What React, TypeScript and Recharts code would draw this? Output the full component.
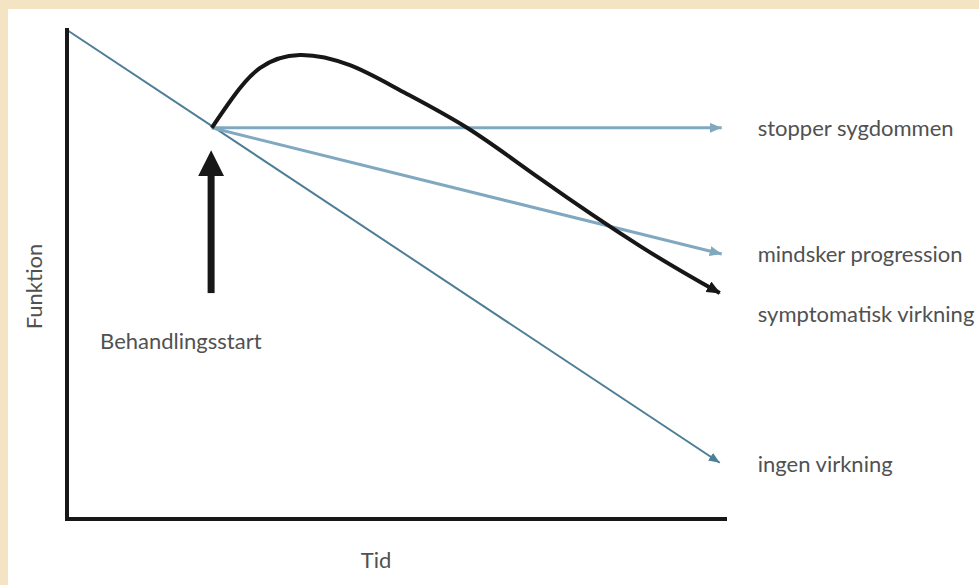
import React from 'react';
import { ComposedChart, Line, XAxis, YAxis, Label } from 'recharts';

// ---- data (x: time 0-100, y: function 0-100) ----
const ingenVirkning = [
  { x: 0, y: 100 },
  { x: 99.2, y: 11.5 },
];
const stopperSygdommen = [
  { x: 22, y: 80 },
  { x: 99.5, y: 80 },
];
const mindskerProgression = [
  { x: 22, y: 80 },
  { x: 99.5, y: 54.2 },
];
const symptomatiskVirkning = [
  { x: 22, y: 80 },
  { x: 25.2, y: 86.2 },
  { x: 29.3, y: 92.2 },
  { x: 35.4, y: 94.9 },
  { x: 43.0, y: 92.8 },
  { x: 50.6, y: 87.7 },
  { x: 60.8, y: 80.0 },
  { x: 71.9, y: 69.6 },
  { x: 87.1, y: 55.8 },
  { x: 99.2, y: 46.2 },
];
const behandlingsstartPil = [
  { x: 21.9, y: 46.2 },
  { x: 21.9, y: 70.3 },
];

const labelIngen = 'ingen virkning';
const labelStopper = 'stopper sygdommen';
const labelMindsker = 'mindsker progression';
const labelSymptomatisk = 'symptomatisk virkning';
const labelStart = 'Behandlingsstart';
const xAxisTitle = 'Tid';
const yAxisTitle = 'Funktion';

// ---- styles ----
const FONT = 'Lato, "Open Sans", sans-serif';
const TEXT_COLOR = '#515151';
const FONT_SIZE = 22;
const DARK_BLUE = '#4d7e97';
const LIGHT_BLUE = '#80a9c0';
const BLACK = '#171717';

const pointLabel =
  (text: string, at: number, dx: number, dy: number) =>
  (props: any) => {
    const { cx, cy, index } = props;
    if (index !== at) return <g key={`e-${index}`} />;
    return (
      <text
        key={`l-${index}`}
        x={cx + dx}
        y={cy + dy}
        fontFamily={FONT}
        fontSize={FONT_SIZE}
        fill={TEXT_COLOR}
        textAnchor="start"
      >
        {text}
      </text>
    );
  };

export default function App() {
  return (
    <div
      style={{
        position: 'absolute',
        left: 0,
        top: 0,
        width: 979,
        height: 585,
        background: '#F5E4C4',
        overflow: 'hidden',
      }}
    >
      <div
        style={{
          position: 'absolute',
          left: 8,
          top: 9,
          width: 971,
          height: 576,
          background: '#ffffff',
        }}
      />
      <svg width={0} height={0} style={{ position: 'absolute' }}>
        <defs>
          <marker id="arrLight" markerUnits="userSpaceOnUse" markerWidth={12} markerHeight={10} refX={12} refY={5} orient="auto">
            <path d="M0,0 L12,5 L0,10 Z" fill={LIGHT_BLUE} />
          </marker>
          <marker id="arrDark" markerUnits="userSpaceOnUse" markerWidth={11} markerHeight={9} refX={11} refY={4.5} orient="auto">
            <path d="M0,0 L11,4.5 L0,9 Z" fill={DARK_BLUE} />
          </marker>
          <marker id="arrBlack" markerUnits="userSpaceOnUse" markerWidth={14} markerHeight={12} refX={13} refY={6} orient="auto">
            <path d="M0,0 L14,6 L0,12 Z" fill={BLACK} />
          </marker>
          <marker id="arrBig" markerUnits="userSpaceOnUse" markerWidth={26} markerHeight={26} refX={1} refY={13} orient="auto">
            <path d="M0,0 L26,13 L0,26 Z" fill={BLACK} />
          </marker>
        </defs>
      </svg>
      <div style={{ position: 'absolute', left: 0, top: 0 }}>
        <ComposedChart width={979} height={585} margin={{ top: 30, right: 254, bottom: 36, left: 7 }}>
          <XAxis
            type="number"
            dataKey="x"
            domain={[0, 100]}
            height={30}
            tick={false}
            tickLine={false}
            axisLine={{ stroke: BLACK, strokeWidth: 4, strokeLinecap: 'square' }}
          >
            <Label
              content={(p: any) => {
                const vb = p.viewBox || {};
                return (
                  <text
                    x={vb.x + vb.width / 2 - 20}
                    y={vb.y + 49}
                    textAnchor="middle"
                    fontFamily={FONT}
                    fontSize={FONT_SIZE}
                    fill={TEXT_COLOR}
                  >
                    {xAxisTitle}
                  </text>
                );
              }}
            />
          </XAxis>
          <YAxis
            type="number"
            dataKey="y"
            domain={[0, 100]}
            width={60}
            tick={false}
            tickLine={false}
            axisLine={{ stroke: BLACK, strokeWidth: 4, strokeLinecap: 'square' }}
          >
            <Label
              content={(p: any) => {
                const vb = p.viewBox || {};
                const x = vb.x + vb.width - 25;
                const y = vb.y + vb.height / 2 + 12;
                return (
                  <text
                    x={x}
                    y={y}
                    transform={`rotate(-90, ${x}, ${y})`}
                    textAnchor="middle"
                    fontFamily={FONT}
                    fontSize={FONT_SIZE}
                    fill={TEXT_COLOR}
                  >
                    {yAxisTitle}
                  </text>
                );
              }}
            />
          </YAxis>
          <Line
            data={ingenVirkning}
            dataKey="y"
            type="linear"
            stroke={DARK_BLUE}
            strokeWidth={2}
            markerEnd="url(#arrDark)"
            dot={pointLabel(labelIngen, ingenVirkning.length - 1, 38, 9)}
            activeDot={false}
            isAnimationActive={false}
          />
          <Line
            data={stopperSygdommen}
            dataKey="y"
            type="linear"
            stroke={LIGHT_BLUE}
            strokeWidth={3}
            markerEnd="url(#arrLight)"
            dot={pointLabel(labelStopper, stopperSygdommen.length - 1, 36, 8)}
            activeDot={false}
            isAnimationActive={false}
          />
          <Line
            data={mindskerProgression}
            dataKey="y"
            type="linear"
            stroke={LIGHT_BLUE}
            strokeWidth={3}
            markerEnd="url(#arrLight)"
            dot={pointLabel(labelMindsker, mindskerProgression.length - 1, 36, 8)}
            activeDot={false}
            isAnimationActive={false}
          />
          <Line
            data={symptomatiskVirkning}
            dataKey="y"
            type="natural"
            stroke={BLACK}
            strokeWidth={4}
            markerEnd="url(#arrBlack)"
            dot={pointLabel(labelSymptomatisk, symptomatiskVirkning.length - 1, 38, 29)}
            activeDot={false}
            isAnimationActive={false}
          />
          <Line
            data={behandlingsstartPil}
            dataKey="y"
            type="linear"
            stroke={BLACK}
            strokeWidth={7}
            markerEnd="url(#arrBig)"
            dot={pointLabel(labelStart, 0, -111, 56)}
            activeDot={false}
            isAnimationActive={false}
          />
        </ComposedChart>
      </div>
    </div>
  );
}
